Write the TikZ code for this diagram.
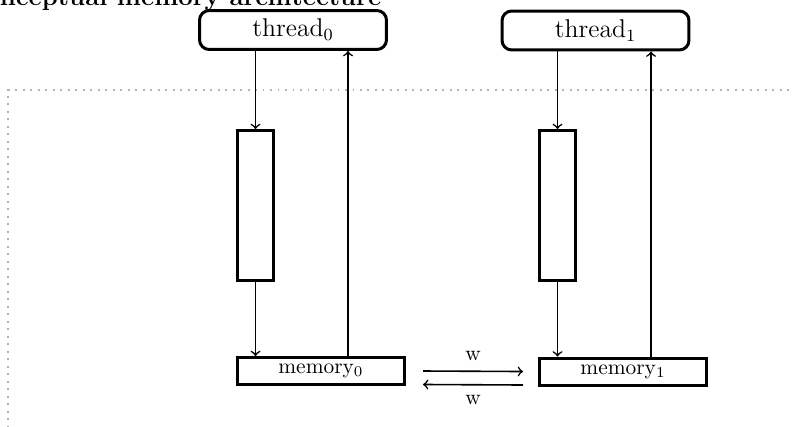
\documentclass[tikz,border=0pt]{standalone}
\usetikzlibrary{calc}
\begin{document}
\begin{tikzpicture}[x=0.467pt, y=-0.467pt,
  threadbox/.style={draw, line width=1.4pt, rounded corners=4.5pt,
    minimum width=87.3pt, minimum height=18.2pt, inner sep=0pt, font=\large},
  bufferbox/.style={draw, line width=1.4pt, minimum width=16.8pt,
    minimum height=70pt, inner sep=0pt},
  membox/.style={draw, line width=1.4pt, minimum width=78pt,
    minimum height=12.6pt, inner sep=0pt, font=\normalsize},
  flow/.style={->, line width=0.75pt},
  frame/.style={draw=black!30, line width=0.9pt, dash pattern=on 0.9pt off 2.6pt}]
\useasboundingbox (0,0) rectangle (793,426);
\clip (0,0) rectangle (793,426);

% heading
\node[anchor=base west, inner sep=0pt, font=\large\bfseries] (title) at (-36,5)
  {Conceptual memory architecture};

% dotted frame around the shared part
\draw[frame] (8,450) |- (830,90);

% threads
\node[threadbox] (thread0) at (293,30) {thread$_0$};
\node[threadbox] (thread1) at (595.5,30.5) {thread$_1$};

% per-thread buffers
\node[bufferbox] (buf0) at (255.5,205.5) {};
\node[bufferbox] (buf1) at (557.5,205.5) {};

% memories
\node[membox] (mem0) at (321,371) {memory$_0$};
\node[membox] (mem1) at (623,371.5) {memory$_1$};

% reading columns
\coordinate (up0) at (348,0);
\coordinate (up1) at (651,0);

% thread -> buffer -> memory
\draw[flow] (thread0.south -| buf0) -- (buf0.north);
\draw[flow] (buf0.south) -- (mem0.north -| buf0);
\draw[flow] (thread1.south -| buf1) -- (buf1.north);
\draw[flow] (buf1.south) -- (mem1.north -| buf1);

% memory -> thread
\draw[flow] (mem0.north -| up0) -- (thread0.south -| up0);
\draw[flow] (mem1.north -| up1) -- (thread1.south -| up1);

% write propagation between memories
\draw[flow] ($(mem0.east)+(17,0)$) -- node[above=1pt] {w} ($(mem1.west)+(-15,0)$);
\draw[flow] ($(mem1.south west)+(-15,-1.5)$) -- node[below=1pt] {w} ($(mem0.south east)+(17,-1.5)$);
\end{tikzpicture}
\end{document}
